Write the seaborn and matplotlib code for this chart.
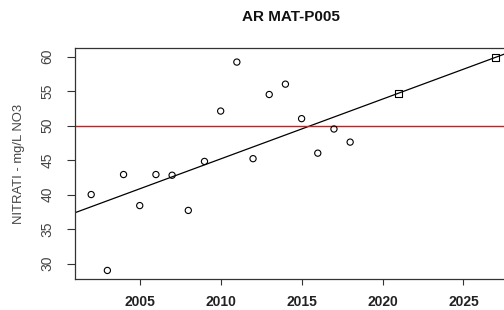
import numpy as np
import pandas as pd
import seaborn as sns
import matplotlib.pyplot as plt

# measured nitrate values (mg/L NO3) per year
years = [2002, 2003, 2004, 2005, 2006, 2007, 2008, 2009, 2010,
         2011, 2012, 2013, 2014, 2015, 2016, 2017, 2018]
nitrati = [40.0, 29.0, 42.9, 38.4, 42.9, 42.8, 37.7, 44.8, 52.1,
           59.2, 45.2, 54.5, 56.0, 51.0, 46.0, 49.5, 47.6]

# trend projections
pred_years = [2021, 2027]
pred_values = [54.7, 59.9]

limit = 50
x_ticks = [2005, 2010, 2015, 2020, 2025]
y_ticks = [30, 35, 40, 45, 50, 55, 60]

sns.set_style('white')
plt.rcParams['font.family'] = ['Liberation Sans', 'DejaVu Sans']

fig = plt.figure(figsize=(5.04, 3.10), dpi=100)
# axes run a little past the right edge, as in the cropped original
ax = fig.add_axes([75 / 504, 31 / 310, 437 / 504, 231 / 310])

obs = pd.DataFrame({'anno': years, 'no3': nitrati})
pred = pd.DataFrame({'anno': pred_years, 'no3': pred_values})

sns.scatterplot(data=obs, x='anno', y='no3', marker='o', s=20,
                facecolor='none', edgecolor='black', linewidth=0.8, ax=ax, zorder=3)
sns.scatterplot(data=pred, x='anno', y='no3', marker='s', s=24,
                facecolor='none', edgecolor='black', linewidth=0.8, ax=ax, zorder=3)

# trend line through the projected points, red limit line
ax.axline((pred_years[0], pred_values[0]), (pred_years[1], pred_values[1]),
          color='black', lw=0.9, zorder=2)
ax.axhline(limit, color='#c81e1e', lw=1.0, zorder=2)

ax.set_xlim(2001, 2028)
ax.set_ylim(27.76, 61.24)
ax.set_xticks(x_ticks)
ax.set_yticks(y_ticks)
ax.set_xticklabels([str(t) for t in x_ticks], fontsize=10, fontweight='bold', color='#222222')
ax.set_yticklabels([str(t) for t in y_ticks], fontsize=10, color='#444444',
                   rotation=90, va='center')

ax.tick_params(axis='x', bottom=True, length=4.5, width=0.8, color='#333333', pad=7, direction='out')
ax.tick_params(axis='y', left=True, length=6, width=0.8, color='#333333', pad=9, direction='out')

for s in ax.spines.values():
    s.set_visible(True)
    s.set_color('#333333')
    s.set_linewidth(0.9)

ax.set_xlabel('')
ax.set_ylabel('NITRATI - mg/L NO3', fontsize=9.4, color='#444444', va='center')
ax.yaxis.set_label_coords((19 - 75) / 437, 0.5)

fig.text(291 / 504, 1 - 17 / 310, 'AR MAT-P005', ha='center', va='center',
         fontsize=11, fontweight='bold', color='#111111')

fig.savefig('out.png', dpi=100)
